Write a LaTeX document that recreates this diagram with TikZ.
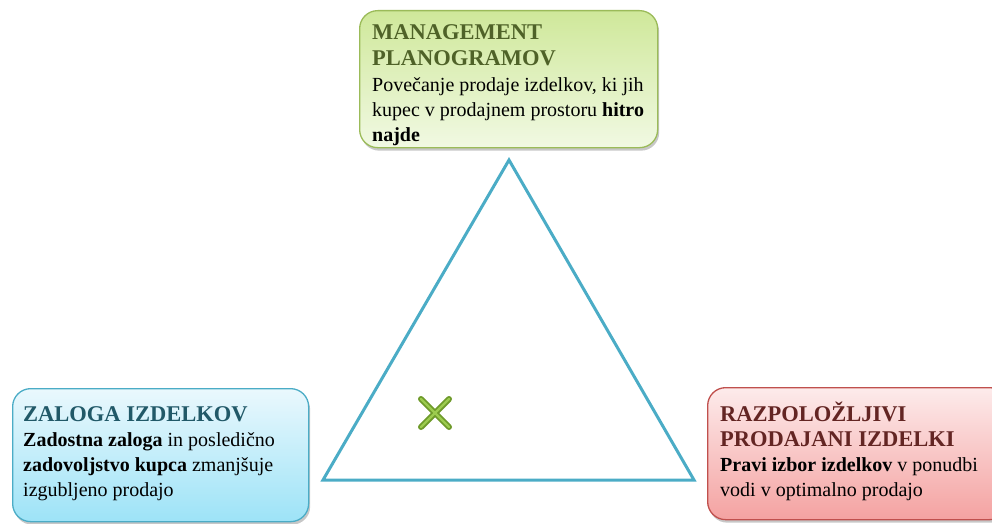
\documentclass[tikz,border=0pt]{standalone}
\usepackage{fontspec}
\setmainfont{Liberation Serif}
\usetikzlibrary{shadows}

\definecolor{greenline}{HTML}{9BBB59}
\definecolor{greentop}{HTML}{CFE89A}
\definecolor{greenbot}{HTML}{F1F9E3}
\definecolor{greentitle}{HTML}{4F6228}
\definecolor{blueline}{HTML}{4BACC6}
\definecolor{bluetop}{HTML}{EAF8FD}
\definecolor{bluebot}{HTML}{9DE3F7}
\definecolor{bluetitle}{HTML}{215968}
\definecolor{redline}{HTML}{C0504D}
\definecolor{redtop}{HTML}{FDEBEB}
\definecolor{redbot}{HTML}{F4A2A1}
\definecolor{redtitle}{HTML}{632523}
\definecolor{trianglecol}{HTML}{4BACC6}
\definecolor{markdark}{HTML}{6E9A2A}
\definecolor{marklight}{HTML}{9CCB4E}

\begin{document}
\begin{tikzpicture}[x=1pt,y=-1pt,
  card/.style={rounded corners=18pt, line width=1.3pt, anchor=north west,
    inner sep=0pt, drop shadow={shadow xshift=1.5pt, shadow yshift=-3pt,
    opacity=0.22, fill=black}},
  cardtext/.style={anchor=north west, inner sep=0pt, align=left,
    font=\fontsize{20}{25}\selectfont},
  tri/.style={draw=trianglecol, line width=3pt, line join=miter},
  xmark/.style={line width=6pt, line cap=round, draw=markdark},
  xshine/.style={line width=2.2pt, line cap=round, draw=marklight}]

  \useasboundingbox (0,0) rectangle (992,524);

  % triangle
  \coordinate (apex) at (509,160);
  \coordinate (baseleft) at (323,480);
  \coordinate (baseright) at (694,480);
  \draw[tri] (apex) -- (baseleft) -- (baseright) -- cycle;

  % cards
  \node[card, draw=greenline, top color=greentop, bottom color=greenbot,
    minimum width=298pt, minimum height=137pt] (mgmt) at (359,10) {};
  \node[card, draw=blueline, top color=bluetop, bottom color=bluebot,
    minimum width=296pt, minimum height=133pt] (stock) at (12,388) {};
  \node[card, draw=redline, top color=redtop, bottom color=redbot,
    minimum width=300pt, minimum height=132pt] (range) at (707,387) {};

  % card texts
  \node[cardtext] (mgmttext) at (372,24) {%
    {\color{greentitle}\fontsize{22.5}{26}\selectfont\bfseries MANAGEMENT}\\[1.5pt]
    {\color{greentitle}\fontsize{22.5}{26}\selectfont\bfseries PLANOGRAMOV}\\[1pt]
    Povečanje prodaje izdelkov, ki jih\\
    kupec v prodajnem prostoru \textbf{hitro}\\
    \textbf{najde}};
  \node[cardtext] (stocktext) at (23,406) {%
    {\color{bluetitle}\fontsize{22.5}{26}\selectfont\bfseries ZALOGA IZDELKOV}\\
    \textbf{Zadostna zaloga} in posledično\\
    \textbf{zadovoljstvo kupca} zmanjšuje\\
    izgubljeno prodajo};
  \node[cardtext] (rangetext) at (720,402) {%
    {\color{redtitle}\fontsize{22.5}{26}\selectfont\bfseries RAZPOLOŽLJIVI}\\
    {\color{redtitle}\fontsize{22.5}{26}\selectfont\bfseries PRODAJANI IZDELKI}\\
    \textbf{Pravi izbor izdelkov} v ponudbi\\
    vodi v optimalno prodajo};

  % cross mark
  \coordinate (xa) at (421,399);
  \coordinate (xb) at (449,427);
  \coordinate (xc) at (449,399);
  \coordinate (xd) at (421,427);
  \draw[xmark] (xa) -- (xb);
  \draw[xmark] (xc) -- (xd);
  \draw[xshine] (xa) -- (xb);
  \draw[xshine] (xc) -- (xd);
\end{tikzpicture}
\end{document}
